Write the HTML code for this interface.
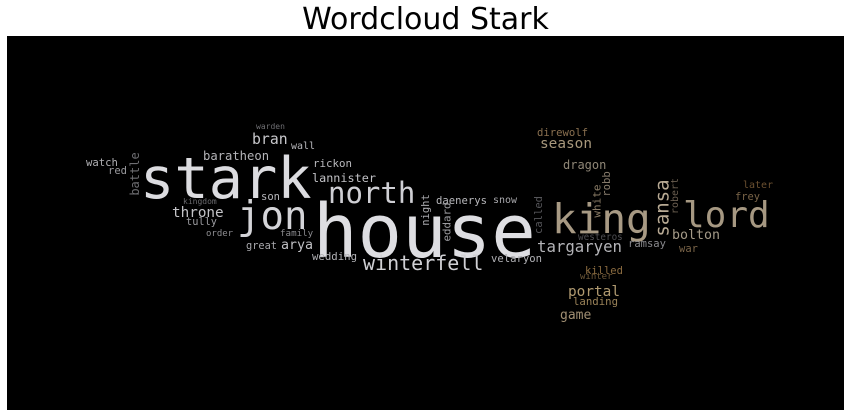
<!DOCTYPE html>
<html><head><meta charset="utf-8"><style>
html,body{margin:0;padding:0;background:#fff;}
#wrap{position:relative;width:851px;height:417px;overflow:hidden;background:#fff;}
#title{position:absolute;left:0;width:851px;top:2px;text-align:center;font:30px "DejaVu Sans","Liberation Sans",sans-serif;color:#000;}
#cloud{position:absolute;left:7px;top:36px;width:837px;height:374px;background:#000;}
.w{position:absolute;font-family:"DejaVu Sans Mono","Liberation Mono",monospace;line-height:1;white-space:nowrap;}
</style></head><body>
<div id="wrap">
<div id="title">Wordcloud Stark</div>
<div id="cloud"></div>
</div>
<script>
// word, x(left or center), y(baseline or center), size, color, vertical
const words=["house","stark","jon","north","king","lord","winterfell","targaryen","bolton","season","dragon","direwolf","portal","landing","game","killed","winter","ramsay","war","westeros","later","frey","daenerys","snow","velaryon","warden","bran","wall","baratheon","rickon","lannister","watch","red","son","kingdom","throne","tully","order","family","great","arya","wedding","sansa","robert","robb","white","called","night","eddard","battle"];
const xs=[313,140,237,328,552,683,363,537,672,540,563,537,568,573,560,585,580,628,679,578,743,735,436,493,491,256,252,291,203,313,312,86,108,261,183,172,186,206,280,246,281,312,663,676,607,597,539,426,448,135];
const ys=[252,195,226,200,230,225,267,250,238,147,167,134,295,304,317,272,278,245,250,238,187,198,202,202,260,127,143,148,158,166,180,164,172,198,202,215,223,235,234,247,248,259,208,196,184,201,215,210,222,174];
const sizes=[74,57,39,29,41,36,20,15.7,13.3,14.4,12,10.6,14.4,10.7,13,10.5,9,10.5,10.5,9.3,10,10.4,10.6,10,10.6,8,14.8,10,12.2,10.8,11.8,10.6,10.5,10.5,8,14.3,10.3,9,9.2,10.3,13.3,10.7,19,10,10.5,11,10.5,10.5,10.8,12];
const colors=["#dedee2","#dcdce0","#d4d4d8","#cfcfd4","#a89a84","#a69882","#d0d0d4","#b4b4b8","#a49a88","#a8987c","#8f8676","#8a7050","#b09a70","#9a8258","#a08e72","#8c6c40","#6e5838","#8a8a8e","#7a6448","#4e4e52","#6b5030","#7a6448","#b8b8bc","#a8a8ac","#b0b0b4","#6e6e72","#c8c8cc","#b8b8bc","#b4b4b8","#b8b8bc","#c0c0c4","#b0b0b4","#9a9a9e","#b8b8bc","#6a6a6e","#c4c4c8","#9c9ca0","#8e8e92","#8a8a8e","#a8a8ac","#c0c0c4","#b0b0b4","#b8aa94","#6a5e50","#8a7e6e","#8a7c66","#56565a","#a8a8ac","#9c9ca0","#6e6e72"];
const vert=[0,0,0,0,0,0,0,0,0,0,0,0,0,0,0,0,0,0,0,0,0,0,0,0,0,0,0,0,0,0,0,0,0,0,0,0,0,0,0,0,0,0,1,1,1,1,1,1,1,1];
const cloud=document.getElementById('cloud');
for(let i=0;i<words.length;i++){
  const s=document.createElement('span');
  s.className='w';
  s.textContent=words[i];
  
  
  s.style.fontSize=sizes[i]+'px';
  s.style.color=colors[i];
  if(vert[i]){
    s.style.left=(xs[i]-7)+'px';
    s.style.top=(ys[i]-36)+'px';
    s.style.transform='translate(-50%,-50%) rotate(-90deg)';
  }else{
    s.style.left=(xs[i]-7)+'px';
    s.style.top=(ys[i]-36-0.8*sizes[i]+2)+'px';
  }
  cloud.appendChild(s);
}
</script>
</body></html>
